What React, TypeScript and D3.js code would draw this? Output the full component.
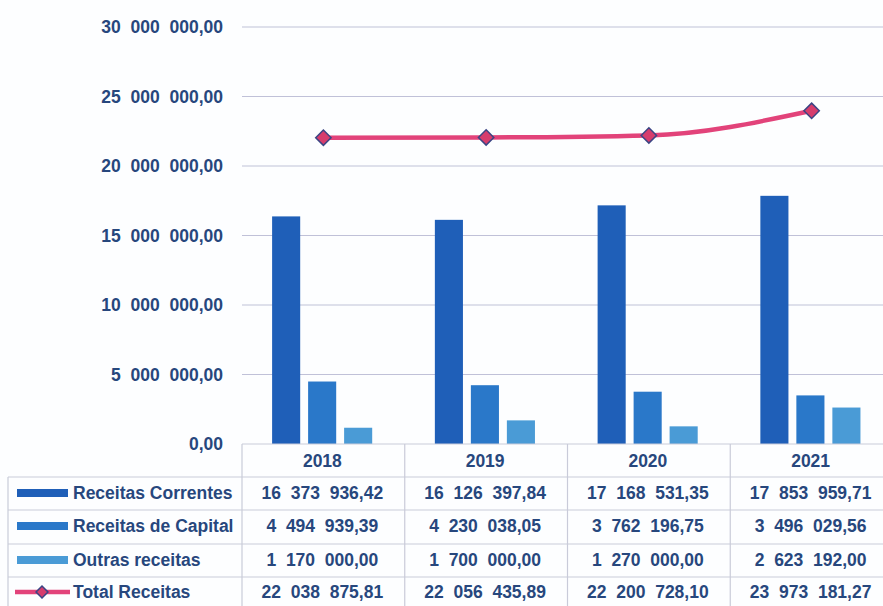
import React, { useEffect, useRef } from 'react';
import * as d3 from 'd3';

const years = ['2018', '2019', '2020', '2021'];
const seriesNames = ['Receitas Correntes', 'Receitas de Capital', 'Outras receitas'];
const correntes = [16373936.42, 16126397.84, 17168531.35, 17853959.71];
const capital = [4494939.39, 4230038.05, 3762196.75, 3496029.56];
const outras = [1170000.0, 1700000.0, 1270000.0, 2623192.0];
const total = [22038875.81, 22056435.89, 22200728.1, 23973181.27];
const yTicks = [0, 5000000, 10000000, 15000000, 20000000, 25000000, 30000000];

const barColors = ['#1f5fb8', '#2a78c9', '#4a9bd6'];
const lineColor = '#e2437a';
const textColor = '#27477d';

// "16 373 936,42" style, wide gaps between groups
const fmt = (v: number) => {
  const [int, dec] = v.toFixed(2).split('.');
  const groups: string[] = [];
  for (let i = int.length; i > 0; i -= 3) groups.unshift(int.slice(Math.max(0, i - 3), i));
  return groups.join('  ') + ',' + dec;
};

const App: React.FC = () => {
  const svgRef = useRef<SVGSVGElement>(null);

  useEffect(() => {
    if (!svgRef.current) return;
    const W = 883, H = 606;
    const left = 242, right = 893, top = 27, bottom = 444;
    const svg = d3.select(svgRef.current);
    svg.selectAll('*').remove();

    const y = d3.scaleLinear().domain([0, 30000000]).range([bottom, top]);
    const x = d3.scaleBand<string>().domain(years).range([left, right]).padding(0);
    const bw = x.bandwidth();
    const sub = d3.scaleBand<number>().domain([0, 1, 2])
      .range([bw * 0.185, bw * 0.8]).paddingInner(0.22);

    // gridlines
    svg.append('g').selectAll('line').data(yTicks.slice(1)).enter().append('line')
      .attr('x1', left).attr('x2', W)
      .attr('y1', d => y(d)).attr('y2', d => y(d))
      .attr('stroke', '#c0c1d8').attr('stroke-width', 1.2);

    // y labels
    svg.append('g').selectAll('text').data(yTicks).enter().append('text')
      .attr('x', 223).attr('y', d => y(d)).attr('dy', '0.35em')
      .attr('text-anchor', 'end')
      .style('white-space', 'pre')
      .attr('font-family', 'Liberation Sans, Arial, sans-serif')
      .attr('font-weight', 'bold').attr('font-size', 17.5)
      .attr('fill', textColor)
      .text(d => fmt(d));

    // bars
    const series = [correntes, capital, outras];
    series.forEach((vals, si) => {
      svg.append('g').selectAll('rect').data(vals).enter().append('rect')
        .attr('x', (_, i) => (x(years[i]) as number) + (sub(si) as number))
        .attr('y', d => y(d))
        .attr('width', sub.bandwidth())
        .attr('height', d => bottom - y(d))
        .attr('fill', barColors[si]);
    });

    // total line
    const cx = (i: number) => (x(years[i]) as number) + bw / 2;
    const line = d3.line<number>().x((_, i) => cx(i)).y(d => y(d)).curve(d3.curveMonotoneX);
    svg.append('path').datum(total)
      .attr('d', line)
      .attr('fill', 'none').attr('stroke', lineColor).attr('stroke-width', 4.5);
    const diamond = d3.symbol().type(d3.symbolDiamond2).size(150);
    svg.append('g').selectAll('path').data(total).enter().append('path')
      .attr('d', diamond)
      .attr('transform', (d, i) => `translate(${cx(i)},${y(d)})`)
      .attr('fill', '#d63d6d').attr('stroke', '#3b4584').attr('stroke-width', 1.5);

    // data table
    const rowLines = [477, 510, 544, 577];
    const tableColor = '#c9cbd9';
    const tg = svg.append('g');
    tg.append('line').attr('x1', left).attr('x2', W).attr('y1', bottom).attr('y2', bottom)
      .attr('stroke', tableColor).attr('stroke-width', 1.2);
    rowLines.forEach(ry => {
      tg.append('line').attr('x1', 8).attr('x2', W).attr('y1', ry).attr('y2', ry)
        .attr('stroke', tableColor).attr('stroke-width', 1.2);
    });
    tg.append('line').attr('x1', 8).attr('x2', 8).attr('y1', rowLines[0]).attr('y2', H)
      .attr('stroke', tableColor).attr('stroke-width', 1.2);
    years.forEach(yr => {
      const xx = x(yr) as number;
      tg.append('line').attr('x1', xx).attr('x2', xx).attr('y1', bottom).attr('y2', H)
        .attr('stroke', tableColor).attr('stroke-width', 1.2);
    });

    const rowCenters = [461, 493, 526, 560, 592];
    const txt = (g: any) => g
      .style('white-space', 'pre')
      .attr('font-family', 'Liberation Sans, Arial, sans-serif')
      .attr('font-weight', 'bold').attr('font-size', 17.5)
      .attr('fill', textColor).attr('dy', '0.35em');

    // header years
    tg.append('g').selectAll('text').data(years).enter().append('text')
      .attr('x', d => (x(d) as number) + bw / 2 - 1).attr('y', rowCenters[0])
      .attr('text-anchor', 'middle').call(txt).text(d => d);

    const rows = [
      { name: seriesNames[0], vals: correntes },
      { name: seriesNames[1], vals: capital },
      { name: seriesNames[2], vals: outras },
      { name: 'Total Receitas', vals: total },
    ];
    rows.forEach((r, ri) => {
      const cy = rowCenters[ri + 1];
      if (ri < 3) {
        tg.append('rect').attr('x', 17).attr('y', cy - 4).attr('width', 51).attr('height', 8)
          .attr('fill', barColors[ri]);
      } else {
        tg.append('line').attr('x1', 15).attr('x2', 70).attr('y1', cy).attr('y2', cy)
          .attr('stroke', lineColor).attr('stroke-width', 4.5);
        tg.append('path').attr('d', d3.symbol().type(d3.symbolDiamond2).size(90))
          .attr('transform', `translate(42,${cy})`)
          .attr('fill', '#d63d6d').attr('stroke', '#3b4584').attr('stroke-width', 1.5);
      }
      tg.append('text').attr('x', 73).attr('y', cy).call(txt).text(r.name);
      tg.append('g').selectAll('text').data(r.vals).enter().append('text')
        .attr('x', (_, i) => (x(years[i]) as number) + bw / 2 - 1).attr('y', cy)
        .attr('text-anchor', 'middle').call(txt).text(d => fmt(d));
    });
  }, []);

  return (
    <svg ref={svgRef} width={883} height={606}
      style={{ position: 'absolute', left: 0, top: 0, background: '#fdfeff' }} />
  );
};

export default App;
